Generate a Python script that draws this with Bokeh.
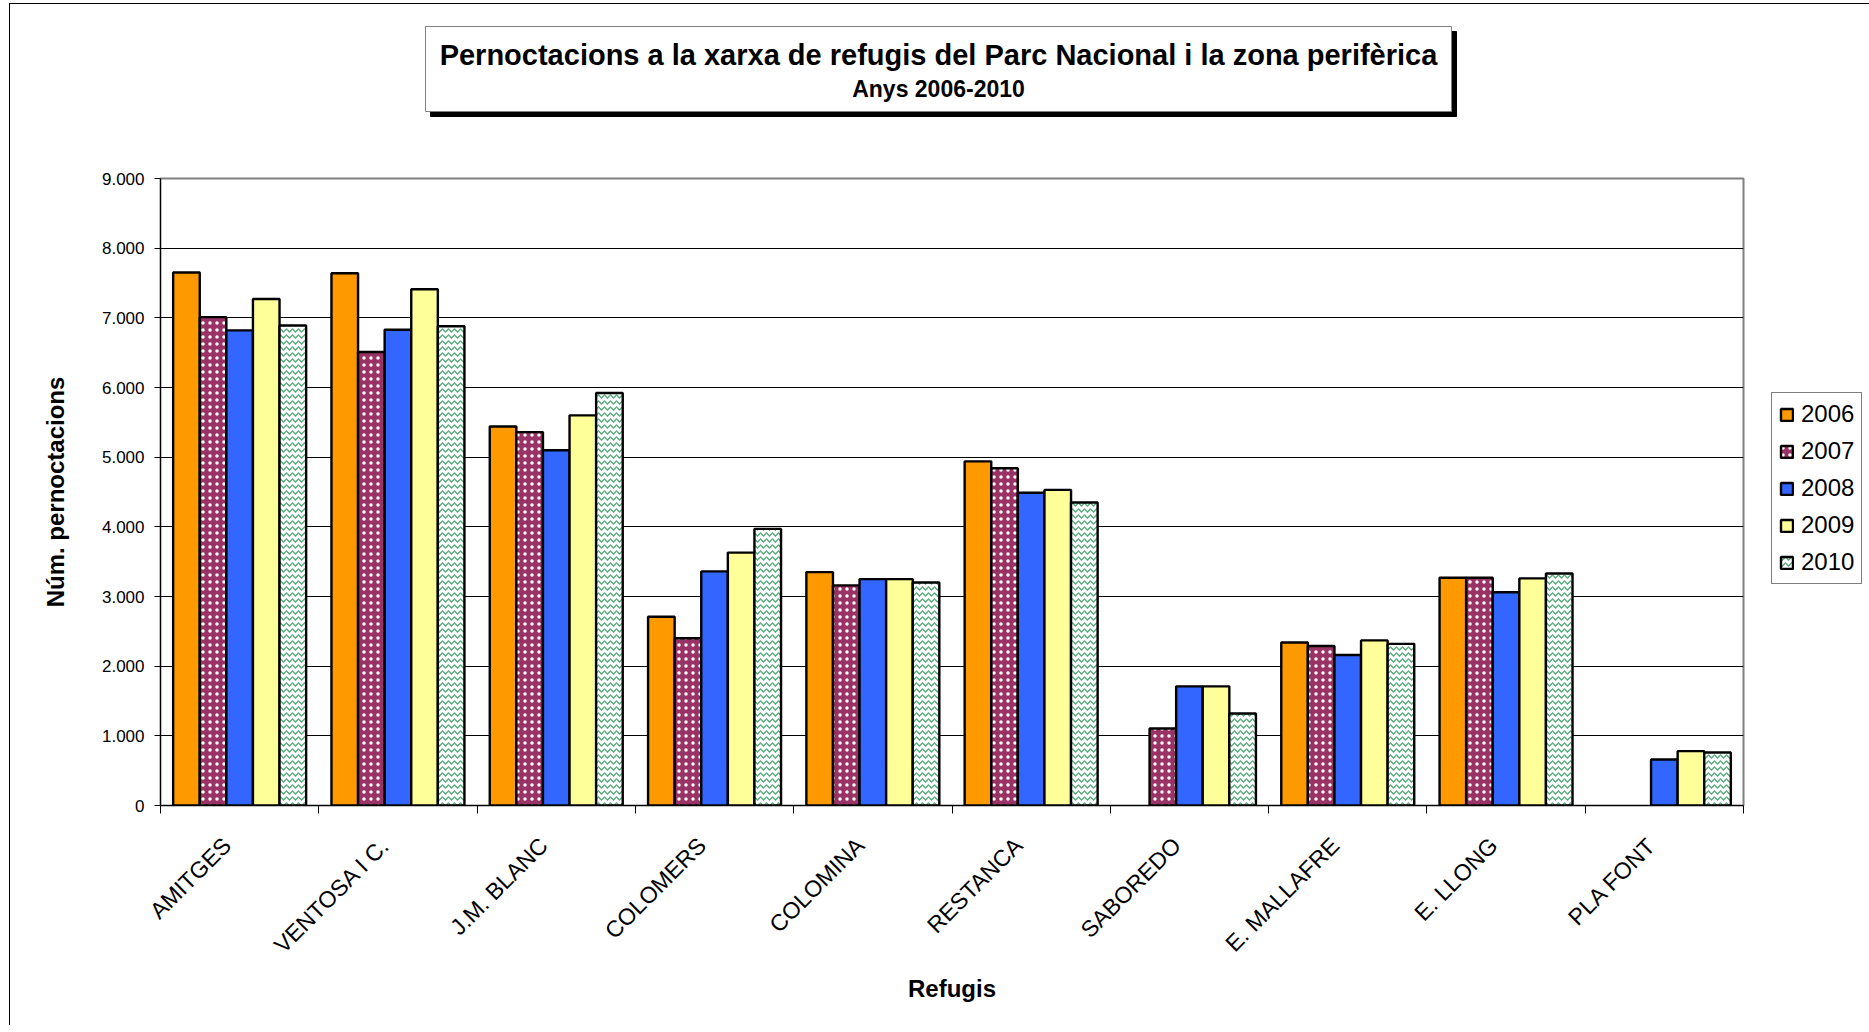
from bokeh.plotting import figure
from bokeh.layouts import column
from bokeh.models import (ColumnDataSource, Range1d, FixedTicker, CustomJSTickFormatter,
                          LinearAxis, Legend, LegendItem, Label)
from bokeh.transform import dodge
from bokeh.embed import file_html
from bokeh.resources import INLINE
import math

NaN = float("nan")

refugis = ["AMITGES", "VENTOSA I C.", "J.M. BLANC", "COLOMERS", "COLOMINA",
           "RESTANCA", "SABOREDO", "E. MALLAFRE", "E. LLONG", "PLA FONT"]
years = ["2006", "2007", "2008", "2009", "2010"]
v2006 = [7650, 7640, 5440, 2710, 3350, 4940, NaN, 2340, 3270, NaN]
v2007 = [7010, 6510, 5360, 2400, 3160, 4840, 1105, 2290, 3270, NaN]
v2008 = [6820, 6830, 5100, 3360, 3250, 4490, 1710, 2160, 3060, 660]
v2009 = [7270, 7410, 5600, 3630, 3250, 4530, 1710, 2370, 3260, 780]
v2010 = [6890, 6880, 5920, 3970, 3200, 4350, 1320, 2320, 3330, 760]
y_ticks = [0, 1000, 2000, 3000, 4000, 5000, 6000, 7000, 8000, 9000]

title_text = "Pernoctacions a la xarxa de refugis del Parc Nacional i la zona perifèrica"
subtitle_text = "Anys 2006-2010"

FONT = "Liberation Sans"
FRAME_W = 1583
LEFT = 150

# ---------------- title strip (coordinates = page pixels) ----------------
t = figure(frame_width=FRAME_W, frame_height=161, x_range=Range1d(160, 160 + FRAME_W),
           y_range=Range1d(165, 4), output_backend="svg", toolbar_location=None,
           x_axis_location=None, y_axis_location=None,
           min_border_left=LEFT, min_border_right=0, min_border_top=0, min_border_bottom=0)
t.grid.visible = False
t.outline_line_color = None
t.background_fill_color = "white"
t.border_fill_color = "white"
# shadow + box
t.quad(left=[430], right=[1456], top=[31], bottom=[116], fill_color="black", line_color="black")
t.quad(left=[425], right=[1451], top=[26], bottom=[111], fill_color="white", line_color="#808080",
       line_width=1)
t.add_layout(Label(x=938, y=54, text=title_text, text_align="center", text_baseline="middle",
                   text_font=FONT, text_font_style="bold", text_font_size="29px", text_color="black"))
t.add_layout(Label(x=938, y=88, text=subtitle_text, text_align="center", text_baseline="middle",
                   text_font=FONT, text_font_style="bold", text_font_size="23px", text_color="black"))

# ---------------- main chart ----------------
n = len(refugis)
centers = [i + 0.5 for i in range(n)]                 # category slots on the x scale
bounds = list(range(n + 1))                            # slot boundaries (tick marks)
label_pos = [round(c - 0.08, 3) for c in centers]      # rotated label anchors

source = ColumnDataSource(data=dict(pos=centers, cat=refugis, y2006=v2006, y2007=v2007,
                                    y2008=v2008, y2009=v2009, y2010=v2010))

p = figure(x_range=Range1d(0, n), y_range=Range1d(0, 9000),
           frame_width=FRAME_W, frame_height=627, output_backend="svg", toolbar_location=None,
           x_axis_location=None, min_border_left=LEFT, min_border_right=20,
           min_border_top=13, min_border_bottom=220)

p.background_fill_color = "white"
p.border_fill_color = "white"
p.outline_line_color = "#808080"
p.outline_line_width = 2

p.xgrid.grid_line_color = None
p.ygrid.grid_line_color = "black"
p.ygrid.grid_line_width = 1
p.ygrid.ticker = FixedTicker(ticks=y_ticks)

ya = p.yaxis[0]
ya.ticker = FixedTicker(ticks=y_ticks)
ya.formatter = CustomJSTickFormatter(code="""
if (tick === 0) return "0";
const k = Math.floor(tick / 1000);
const r = String(Math.round(tick % 1000)).padStart(3, "0");
return k + "." + r;
""")
ya.major_tick_out = 6
ya.major_tick_in = 0
ya.minor_tick_line_color = None
ya.axis_line_color = "black"
ya.major_tick_line_color = "black"
ya.major_label_text_font = FONT
ya.major_label_text_font_size = "17px"
ya.major_label_text_color = "black"
ya.major_label_standoff = 10
ya.axis_label = "Núm. pernoctacions"
ya.axis_label_text_font = FONT
ya.axis_label_text_font_style = "bold"
ya.axis_label_text_font_size = "24px"
ya.axis_label_text_color = "black"
ya.axis_label_standoff = 30

tick_axis = LinearAxis(ticker=FixedTicker(ticks=bounds),
                       formatter=CustomJSTickFormatter(code="return '';"))
tick_axis.major_tick_out = 8
tick_axis.major_tick_in = 0
tick_axis.minor_tick_line_color = None
tick_axis.axis_line_color = "black"
tick_axis.major_tick_line_color = "black"
tick_axis.major_label_standoff = 0
p.add_layout(tick_axis, "below")

cat_axis = LinearAxis(ticker=FixedTicker(ticks=label_pos),
                      major_label_overrides={c: name for c, name in zip(label_pos, refugis)})
cat_axis.axis_line_color = None
cat_axis.major_tick_line_color = None
cat_axis.minor_tick_line_color = None
cat_axis.major_tick_out = 0
cat_axis.major_tick_in = 0
cat_axis.major_label_orientation = math.pi / 4
cat_axis.major_label_text_font = FONT
cat_axis.major_label_text_font_size = "23px"
cat_axis.major_label_text_color = "black"
cat_axis.major_label_standoff = 28
cat_axis.axis_label = "Refugis"
cat_axis.axis_label_text_font = FONT
cat_axis.axis_label_text_font_style = "bold"
cat_axis.axis_label_text_font_size = "24px"
cat_axis.axis_label_text_color = "black"
cat_axis.axis_label_standoff = 5
p.add_layout(cat_axis, "below")

bw = 0.168
offsets = [-2 * bw, -bw, 0, bw, 2 * bw]
fills = ["#FF9900", "#993366", "#3366FF", "#FFFF99", "#FFFFFF"]
hatches = [None, "dot", None, None, "horizontal_wave"]
hatch_colors = [None, "#FFFFFF", None, None, "#5DAA80"]

renderers = []
for i, yr in enumerate(years):
    kw = dict(x=dodge("pos", offsets[i]), top="y" + yr, width=bw, bottom=0,
              source=source, fill_color=fills[i], line_color="black", line_width=2.4)
    if hatches[i]:
        kw.update(hatch_pattern=hatches[i], hatch_color=hatch_colors[i])
        if hatches[i] == "dot":
            kw.update(hatch_scale=7, hatch_weight=2)
        else:
            kw.update(hatch_scale=6, hatch_weight=1.5)
    r = p.vbar(**kw)
    renderers.append(r)

legend = Legend(items=[LegendItem(label=yr, renderers=[renderers[i]]) for i, yr in enumerate(years)],
                location=(28, 221))
legend.border_line_color = "black"
legend.border_line_width = 1
legend.background_fill_color = "white"
legend.label_text_font = FONT
legend.label_text_font_size = "24px"
legend.label_text_color = "black"
legend.glyph_width = 15
legend.glyph_height = 15
legend.label_height = 24
legend.label_standoff = 7
legend.padding = 7
legend.spacing = 9
legend.margin = 18
p.add_layout(legend, "right")

layout = column(t, p, spacing=0,
                styles={"border-left": "1px solid black", "border-top": "1px solid black",
                        "margin-left": "9px", "margin-top": "3px"})

open("out.html", "w").write(file_html(layout, INLINE))
